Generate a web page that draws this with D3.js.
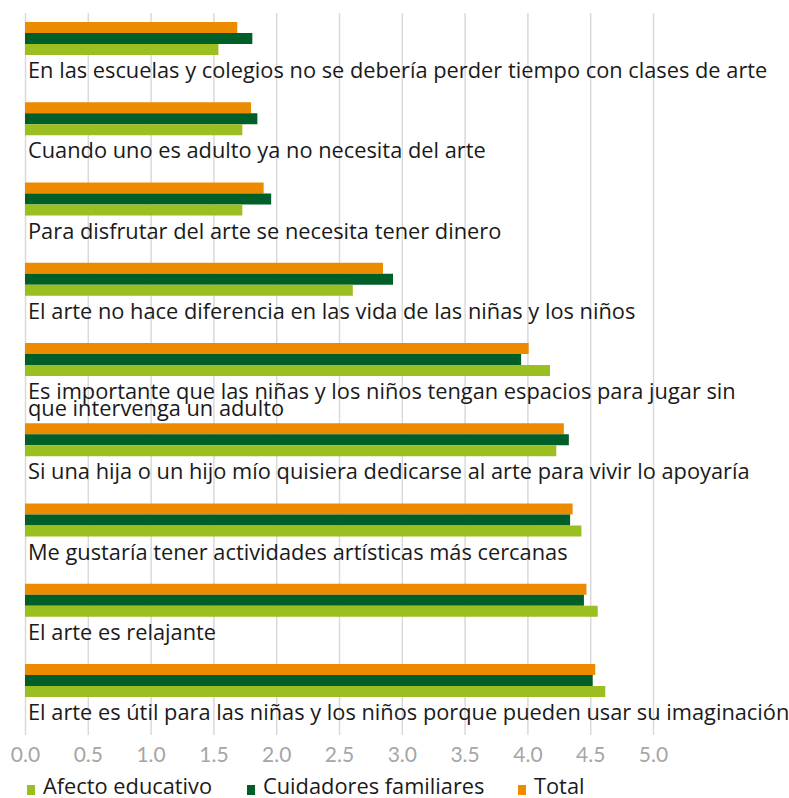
<!DOCTYPE html>
<html>
<head>
<meta charset="utf-8">
<script src="https://cdn.jsdelivr.net/npm/d3@7"></script>
<style>
  body { margin: 0; background: #fff; }
  text { font-family: "Open Sans", sans-serif; }
</style>
</head>
<body>
<script>
// categories top to bottom
var categories = [
  "En las escuelas y colegios no se debería perder tiempo con clases de arte",
  "Cuando uno es adulto ya no necesita del arte",
  "Para disfrutar del arte se necesita tener dinero",
  "El arte no hace diferencia en las vida de las niñas y los niños",
  "Es importante que las niñas y los niños tengan espacios para jugar sin\nque intervenga un adulto",
  "Si una hija o un hijo mío quisiera dedicarse al arte para vivir lo apoyaría",
  "Me gustaría tener actividades artísticas más cercanas",
  "El arte es relajante",
  "El arte es útil para las niñas y los niños porque pueden usar su imaginación"
];

var total      = [1.69, 1.80, 1.90, 2.85, 4.01, 4.29, 4.36, 4.47, 4.54];
var cuidadores = [1.81, 1.85, 1.96, 2.93, 3.95, 4.33, 4.34, 4.45, 4.52];
var afecto     = [1.54, 1.73, 1.73, 2.61, 4.18, 4.23, 4.43, 4.56, 4.62];

var seriesNames = ["Total", "Cuidadores familiares", "Afecto educativo"];
var legendNames = ["Afecto educativo", "Cuidadores familiares", "Total"];
var ticks = [0, 0.5, 1, 1.5, 2, 2.5, 3, 3.5, 4, 4.5, 5];

var colors = {
  "Afecto educativo": "#9bbf20",
  "Cuidadores familiares": "#005e28",
  "Total": "#ed8b00"
};

var w = 789, h = 798;

var svg = d3.select("body").append("svg").attr("width", w).attr("height", h);

var x = d3.scaleLinear().domain([0, 5]).range([25, 653]);
var y = d3.scaleBand().domain(categories).range([22, 22 + 9 * 80.25]);
var ySub = d3.scaleBand().domain(seriesNames).range([0, 33]);

// gridlines + tick labels
var axis = svg.append("g")
  .attr("transform", "translate(0,735)")
  .call(d3.axisBottom(x).tickValues(ticks).tickFormat(d3.format(".1f")).tickSize(-722));
axis.select(".domain").remove();
axis.selectAll(".tick line").attr("stroke", "#d9d9d9").attr("stroke-width", 1.5);
axis.selectAll(".tick text")
  .attr("y", 27).attr("dy", 0)
  .attr("fill", "#a6a6a6")
  .style("font-size", "21px")
  .style("font-family", "Lato, sans-serif");

// bars
var rows = categories.map(function(c, i) {
  return {cat: c, values: [
    {name: "Total", v: total[i]},
    {name: "Cuidadores familiares", v: cuidadores[i]},
    {name: "Afecto educativo", v: afecto[i]}
  ]};
});

var groups = svg.selectAll("g.row").data(rows).enter()
  .append("g").attr("class", "row")
  .attr("transform", function(d) { return "translate(0," + y(d.cat) + ")"; });

groups.selectAll("rect").data(function(d) { return d.values; }).enter()
  .append("rect")
  .attr("x", x(0))
  .attr("y", function(d) { return ySub(d.name); })
  .attr("width", function(d) { return x(d.v) - x(0); })
  .attr("height", ySub.bandwidth())
  .attr("fill", function(d) { return colors[d.name]; });

// category labels
var labels = groups.append("text")
  .attr("x", 28)
  .attr("y", 56)
  .attr("fill", "#1a1a1a")
  .style("font-size", "20px");

labels.each(function(d) {
  var lines = d.cat.split("\n");
  var t = d3.select(this);
  lines.forEach(function(l, j) {
    t.append("tspan").attr("x", 28).attr("dy", j ? 16.5 : 0).text(l);
  });
});

// fit the font so the first label spans like the original (~740px)
var firstLen = labels.nodes()[0].getComputedTextLength();
var fs = 20 * 740 / firstLen;
labels.style("font-size", fs + "px");

// legend
var leg = svg.selectAll("g.leg").data(legendNames).enter()
  .append("g").attr("class", "leg");
var legX = [27, 247, 518];
leg.append("rect")
  .attr("x", function(d, i) { return legX[i]; })
  .attr("y", 785).attr("width", 8).attr("height", 10)
  .attr("fill", function(d) { return colors[d]; });
leg.append("text")
  .attr("x", function(d, i) { return legX[i] + 16; })
  .attr("y", 794)
  .attr("fill", "#1a1a1a")
  .style("font-size", fs + "px")
  .text(function(d) { return d; });
</script>
</body>
</html>
